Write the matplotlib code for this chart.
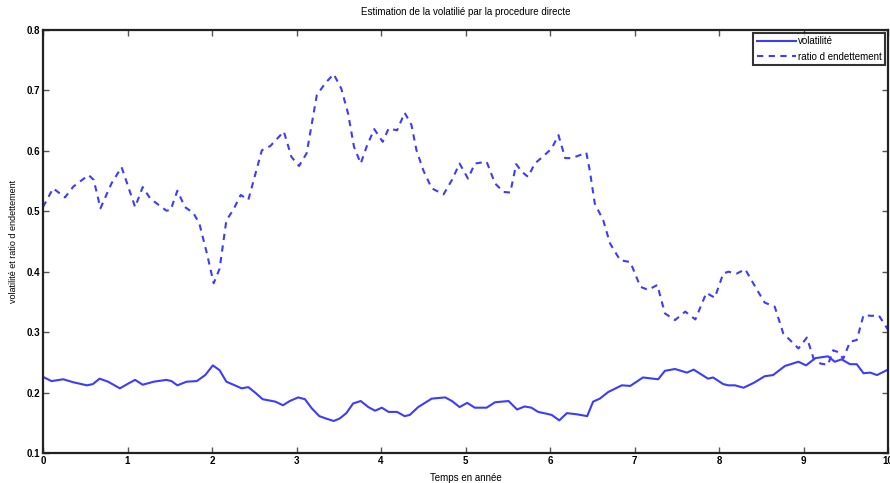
import matplotlib
matplotlib.use("Agg")
import matplotlib.pyplot as plt

plt.rcParams['font.family'] = ['Liberation Sans', 'DejaVu Sans']

# volatilité (solid)
t_vol = [0.00, 0.10, 0.24, 0.36, 0.52, 0.59, 0.67, 0.77, 0.91, 1.01, 1.09, 1.18, 1.31,
         1.46, 1.52, 1.59, 1.70, 1.82, 1.92, 2.01, 2.09, 2.17, 2.27, 2.35, 2.43, 2.51,
         2.60, 2.75, 2.84, 2.92, 3.02, 3.10, 3.18, 3.27, 3.35, 3.44, 3.51, 3.59, 3.67,
         3.76, 3.85, 3.93, 4.01, 4.09, 4.19, 4.28, 4.34, 4.44, 4.60, 4.76, 4.84, 4.93,
         5.02, 5.11, 5.25, 5.35, 5.51, 5.61, 5.70, 5.78, 5.86, 5.96, 6.02, 6.11, 6.20,
         6.32, 6.44, 6.51, 6.59, 6.69, 6.85, 6.95, 7.10, 7.28, 7.36, 7.48, 7.62, 7.70,
         7.87, 7.93, 8.05, 8.11, 8.19, 8.29, 8.41, 8.54, 8.64, 8.78, 8.94, 9.03, 9.14,
         9.29, 9.37, 9.45, 9.55, 9.63, 9.71, 9.79, 9.87, 10.00]
v_vol = [0.226, 0.219, 0.222, 0.217, 0.212, 0.214, 0.223, 0.218, 0.207, 0.215, 0.221, 0.213, 0.218,
         0.221, 0.219, 0.212, 0.218, 0.219, 0.229, 0.245, 0.237, 0.218, 0.212, 0.207, 0.209, 0.200,
         0.189, 0.185, 0.179, 0.186, 0.192, 0.189, 0.174, 0.161, 0.157, 0.153, 0.157, 0.166, 0.182,
         0.186, 0.176, 0.170, 0.175, 0.168, 0.168, 0.161, 0.163, 0.176, 0.190, 0.192, 0.186, 0.176,
         0.183, 0.175, 0.175, 0.184, 0.186, 0.172, 0.177, 0.175, 0.168, 0.165, 0.163, 0.154, 0.166,
         0.164, 0.161, 0.185, 0.190, 0.201, 0.212, 0.211, 0.225, 0.222, 0.236, 0.239, 0.233, 0.238,
         0.223, 0.225, 0.214, 0.212, 0.212, 0.208, 0.216, 0.227, 0.229, 0.244, 0.251, 0.245, 0.257,
         0.260, 0.251, 0.255, 0.247, 0.247, 0.232, 0.233, 0.229, 0.238]

# ratio d endettement (dashed)
t_ratio = [0.00, 0.12, 0.26, 0.36, 0.54, 0.60, 0.68, 0.81, 0.93, 1.09, 1.18, 1.27, 1.46,
           1.51, 1.59, 1.68, 1.78, 1.85, 1.94, 2.02, 2.09, 2.17, 2.25, 2.34, 2.43, 2.59,
           2.69, 2.85, 2.94, 3.03, 3.12, 3.24, 3.34, 3.44, 3.53, 3.61, 3.68, 3.76, 3.83,
           3.92, 4.02, 4.09, 4.19, 4.28, 4.36, 4.42, 4.50, 4.60, 4.74, 4.84, 4.93, 5.03,
           5.11, 5.25, 5.35, 5.45, 5.53, 5.60, 5.67, 5.74, 5.82, 5.92, 6.02, 6.10, 6.18,
           6.26, 6.43, 6.47, 6.53, 6.63, 6.71, 6.83, 6.95, 7.07, 7.16, 7.27, 7.36, 7.48,
           7.60, 7.72, 7.85, 7.95, 8.05, 8.11, 8.21, 8.31, 8.45, 8.54, 8.66, 8.76, 8.94,
           9.04, 9.12, 9.20, 9.29, 9.35, 9.41, 9.47, 9.55, 9.63, 9.71, 9.81, 9.89, 10.00]
v_ratio = [0.507, 0.538, 0.523, 0.541, 0.560, 0.552, 0.505, 0.546, 0.573, 0.507, 0.540, 0.521, 0.501,
           0.502, 0.534, 0.507, 0.497, 0.480, 0.430, 0.381, 0.405, 0.485, 0.502, 0.527, 0.519, 0.601,
           0.608, 0.632, 0.590, 0.575, 0.596, 0.692, 0.712, 0.727, 0.703, 0.662, 0.607, 0.579, 0.607,
           0.636, 0.615, 0.637, 0.634, 0.663, 0.643, 0.601, 0.568, 0.538, 0.528, 0.552, 0.579, 0.554,
           0.579, 0.582, 0.546, 0.532, 0.531, 0.578, 0.565, 0.557, 0.579, 0.591, 0.604, 0.626, 0.588,
           0.588, 0.597, 0.568, 0.513, 0.485, 0.447, 0.419, 0.416, 0.375, 0.370, 0.378, 0.331, 0.320,
           0.334, 0.321, 0.365, 0.357, 0.397, 0.400, 0.397, 0.404, 0.370, 0.349, 0.342, 0.298, 0.273,
           0.291, 0.256, 0.248, 0.246, 0.270, 0.267, 0.256, 0.284, 0.287, 0.328, 0.327, 0.328, 0.304]

x_ticks = [0, 1, 2, 3, 4, 5, 6, 7, 8, 9, 10]
y_ticks = [0.1, 0.2, 0.3, 0.4, 0.5, 0.6, 0.7, 0.8]

color = '#3c3cff'

fig = plt.figure(figsize=(8.9, 4.83), dpi=100)
ax = fig.add_axes([43/890, 30/483, 845/890, 423/483])

ax.plot(t_vol, v_vol, color=color, lw=1.5, label='volatilité')
ax.plot(t_ratio, v_ratio, color=color, lw=1.5, ls=(0, (3.0, 2.6)), label='ratio d endettement')

ax.set_xlim(0, 10)
ax.set_ylim(0.1, 0.8)
ax.set_xticks(x_ticks)
ax.set_yticks(y_ticks)
ax.set_xticklabels([str(v) for v in x_ticks], fontsize=7, fontweight='bold')
ax.set_yticklabels([f'{v:.1f}' for v in y_ticks], fontsize=7, fontweight='bold')
ax.tick_params(direction='in', length=4, width=1, color='#555555', top=True, right=True, pad=2)
for s in ax.spines.values():
    s.set_linewidth(1.6)
    s.set_color('#222222')

ax.set_title('Estimation de la volatilié par la procedure directe', fontsize=7, pad=11)
ax.set_xlabel('Temps en année', fontsize=7, labelpad=5)
ax.set_ylabel('volatilité et ratio d endettement', fontsize=6.5, labelpad=6)

leg = ax.legend(loc='upper right', fontsize=7, frameon=True, fancybox=False,
                borderaxespad=0.3, handlelength=4.0, labelspacing=0.55,
                borderpad=0.35, handletextpad=0.25)
leg.get_frame().set_edgecolor('black')
leg.get_frame().set_linewidth(1.5)

fig.savefig('out.png', dpi=100)
